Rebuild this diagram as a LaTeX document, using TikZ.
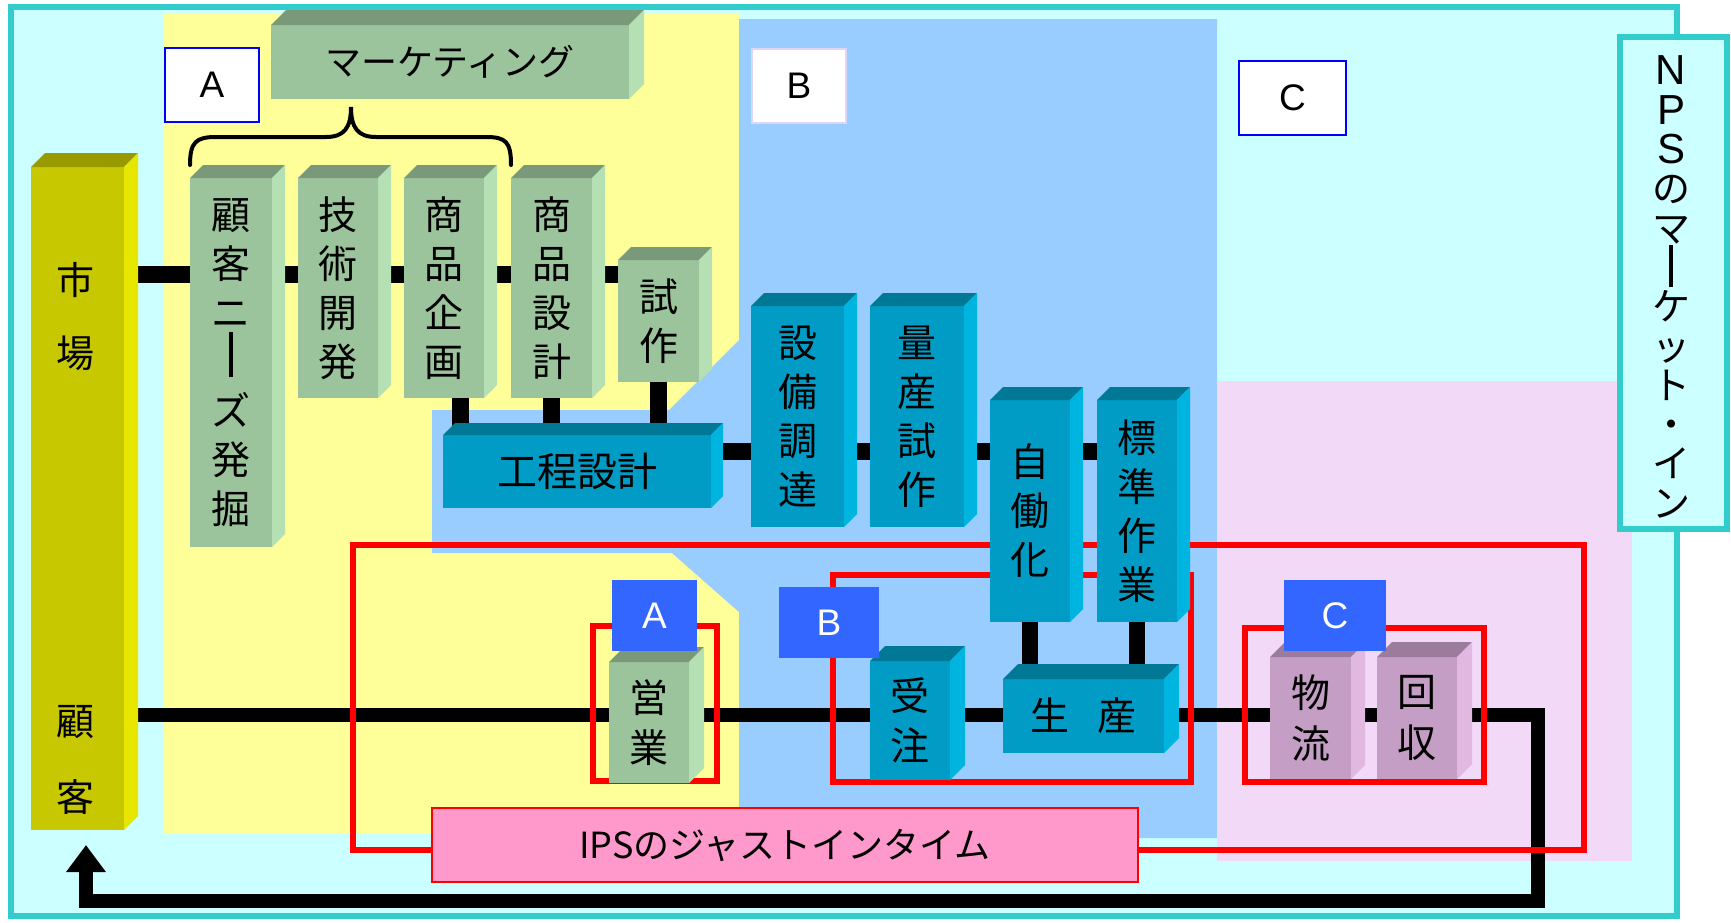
\documentclass[tikz,border=0pt]{standalone}
\usepackage{fontspec}
\setmainfont{Liberation Sans}
\newfontfamily\jp{Noto Sans CJK JP}
\usetikzlibrary{arrows.meta}
\definecolor{bgcyan}{HTML}{CCFFFF}
\definecolor{frameteal}{HTML}{33CCCC}
\definecolor{regyellow}{HTML}{FFFF99}
\definecolor{regblue}{HTML}{99CCFF}
\definecolor{regpink}{HTML}{F2D9F8}
\definecolor{gfront}{HTML}{9CC49C}
\definecolor{gtop}{HTML}{7A987A}
\definecolor{gside}{HTML}{B4E0B4}
\definecolor{tfront}{HTML}{009CC6}
\definecolor{ttop}{HTML}{007896}
\definecolor{tside}{HTML}{00B4E0}
\definecolor{ofront}{HTML}{C8C800}
\definecolor{otop}{HTML}{999900}
\definecolor{oside}{HTML}{E6E600}
\definecolor{pfront}{HTML}{C49EC4}
\definecolor{ptop}{HTML}{9C7C9C}
\definecolor{pside}{HTML}{E0B8E0}
\definecolor{labblue}{HTML}{3366FF}
\definecolor{ipspink}{HTML}{FF99CC}
\definecolor{lavborder}{HTML}{E0D4F8}
\definecolor{pureblue}{HTML}{0000FF}
\definecolor{redline}{HTML}{FF0000}

\pgfdeclarelayer{back}
\pgfdeclarelayer{lines}
\pgfdeclarelayer{front}
\pgfsetlayers{back,lines,main,front}

% #1 node name, #2 depth, #3 top colour, #4 side colour
\newcommand\cubefaces[4]{%
  \fill[#3] (#1.north west) -- ++(#2,-#2) -- ([shift={(#2,-#2)}]#1.north east) -- (#1.north east) -- cycle;
  \fill[#4] (#1.north east) -- ([shift={(#2,-#2)}]#1.north east) -- ([shift={(#2,-#2)}]#1.south east) -- (#1.south east) -- cycle;
}
% vertical long-vowel bar for vertical writing
\newcommand\vbarA{\rule[-1pt]{3.5pt}{45pt}}
\newcommand\vbarB{\rule[-6pt]{4.5pt}{42pt}}

\tikzset{
  face/.style={inner sep=0pt, outer sep=0pt, align=center, text=black,
    font=\jp\fontsize{39}{49}\selectfont},
  gf/.style={face, fill=gfront},
  tf/.style={face, fill=tfront},
  of/.style={face, fill=ofront},
  pf/.style={face, fill=pfront},
  conn/.style={draw=black, line width=17pt},
  redbox/.style={draw=redline, line width=5.5pt},
  wlab/.style={fill=white, line width=2pt, inner sep=0pt, minimum width=94pt,
    minimum height=74pt, font=\fontsize{37}{40}\selectfont},
  blab/.style={fill=labblue, text=white, inner sep=0pt, minimum height=71pt,
    font=\fontsize{37}{40}\selectfont},
  mtext/.style={inner sep=0pt, font=\jp\fontsize{38}{40}\selectfont},
}

\begin{document}
\begin{tikzpicture}[x=1pt, y=-1pt]
\useasboundingbox (0,0) rectangle (1731,922);

\begin{pgfonlayer}{back}
  \fill[white] (0,0) rectangle (1731,922);
  \draw[fill=bgcyan, draw=frameteal, line width=6.5pt] (11,7) rectangle (1677,916);
  \fill[regyellow] (164,13) rectangle (739,833);
  \fill[regblue] (739,19) -- (1217,19) -- (1217,838) -- (739,838) -- (739,612)
     -- (672,553) -- (432,553) -- (432,410) -- (669,410) -- (739,340) -- cycle;
  \fill[regpink] (1217,381) rectangle (1632,861);
  \node[draw=frameteal, fill=bgcyan, line width=6pt, minimum width=107pt,
        minimum height=492pt, inner sep=0pt] (nps) at (1673.5,283) {};
  \node[inner sep=0pt, align=center, font=\jp\fontsize{38}{39.3}\selectfont] (npstext) at (1671,287)
    {{\rmfamily\fontsize{42}{39.3}\selectfont N}\\{\rmfamily\fontsize{42}{39.3}\selectfont P}\\{\rmfamily\fontsize{42}{39.3}\selectfont S}\\の\\マ\\\vbarB\\ケ\\ッ\\ト\\・\\イ\\ン};
\end{pgfonlayer}

% top labels
\node[wlab, draw=pureblue] (labA) at (212,85) {A};
\node[wlab, draw=lavborder] (labB) at (799,85.5) {B};
\node[wlab, draw=pureblue, minimum width=107pt] (labC) at (1292.5,98) {C};

% marketing
\node[gf, minimum width=358pt, minimum height=74pt, font=\jp\fontsize{36}{40}\selectfont] (mkt) at (450,62) {マーケティング};
\cubefaces{mkt}{15}{gtop}{gside}
\draw[line width=4pt, line cap=round] (190,165) .. controls (190,142) and (196,137) .. (216,137)
  -- (326,137) .. controls (344,137) and (351,128) .. (351,107)
  .. controls (351,128) and (358,137) .. (376,137) -- (486,137)
  .. controls (506,137) and (511,142) .. (511,165);

% market column
\node[of, minimum width=93pt, minimum height=663pt] (market) at (77.5,498.5) {};
\cubefaces{market}{14}{otop}{oside}
\node[mtext] (m1) at (75,280) {市};
\node[mtext] (m2) at (75,353) {場};
\node[mtext] (m3) at (75,722) {顧};
\node[mtext] (m4) at (75,797) {客};

% green columns
\node[gf, minimum width=82pt, minimum height=369pt] (needs) at (231,362.5) {顧\\客\\ニ\\\vbarA\\ズ\\発\\掘};
\cubefaces{needs}{13}{gtop}{gside}
\node[gf, minimum width=80pt, minimum height=220pt] (gijutsu) at (338,288) {技\\術\\開\\発};
\cubefaces{gijutsu}{13}{gtop}{gside}
\node[gf, minimum width=80pt, minimum height=220pt] (kikaku) at (444,288) {商\\品\\企\\画};
\cubefaces{kikaku}{13}{gtop}{gside}
\node[gf, minimum width=81pt, minimum height=220pt] (sekkei) at (551.5,288) {商\\品\\設\\計};
\cubefaces{sekkei}{13}{gtop}{gside}
\node[gf, minimum width=81pt, minimum height=122pt] (shisaku) at (658.5,321) {試\\作};
\cubefaces{shisaku}{13}{gtop}{gside}

% teal columns
\node[tf, minimum width=268pt, minimum height=73pt, font=\jp\fontsize{40}{44}\selectfont] (koutei) at (577,471.5) {工程設計};
\cubefaces{koutei}{12}{ttop}{tside}
\node[tf, minimum width=93pt, minimum height=221pt] (setsubi) at (797.5,416.5) {設\\備\\調\\達};
\cubefaces{setsubi}{13}{ttop}{tside}
\node[tf, minimum width=94pt, minimum height=221pt] (ryosan) at (917,416.5) {量\\産\\試\\作};
\cubefaces{ryosan}{13}{ttop}{tside}
\node[tf, minimum width=80pt, minimum height=222pt] (jido) at (1030,511) {自\\働\\化};
\cubefaces{jido}{13}{ttop}{tside}
\node[tf, minimum width=80pt, minimum height=222pt] (hyojun) at (1137,511) {標\\準\\作\\業};
\cubefaces{hyojun}{13}{ttop}{tside}

% bottom row
\node[gf, minimum width=80pt, minimum height=121pt, font=\jp\fontsize{39}{50}\selectfont] (eigyo) at (649,722.5) {営\\業};
\cubefaces{eigyo}{15}{gtop}{gside}
\node[tf, minimum width=80pt, minimum height=119pt, font=\jp\fontsize{39}{50}\selectfont] (juchu) at (910,720.5) {受\\注};
\cubefaces{juchu}{15}{ttop}{tside}
\node[tf, minimum width=161pt, minimum height=74pt] (seisan) at (1083.5,716) {生\hspace{29pt}産};
\cubefaces{seisan}{15}{ttop}{tside}
\node[pf, minimum width=81pt, minimum height=122pt, font=\jp\fontsize{39}{51}\selectfont] (butsuryu) at (1310.5,718) {物\\流};
\cubefaces{butsuryu}{14}{ptop}{pside}
\node[pf, minimum width=80pt, minimum height=122pt, font=\jp\fontsize{39}{51}\selectfont] (kaishu) at (1417,718) {回\\収};
\cubefaces{kaishu}{15}{ptop}{pside}

% IPS box
\node[draw=redline, fill=ipspink, line width=1.5pt, minimum width=706pt, minimum height=74pt,
      inner sep=0pt, font=\jp\fontsize{36}{40}\selectfont] (ips) at (785,845) {IPSのジャストインタイム};

% connectors and red frames
\begin{pgfonlayer}{lines}
  \coordinate (tl) at (0,274);
  \coordinate (ml) at (0,451);
  \coordinate (bl) at (0,715);
  \coordinate (rc) at (1538,715);
  \coordinate (rb) at (86,901);
  \coordinate (tip) at (86,845);
  \draw[conn] (market.east |- tl) -- (shisaku.west |- tl);
  \draw[conn] ([xshift=16pt]kikaku.south) -- ([xshift=16pt]kikaku.south |- koutei.north);
  \draw[conn] (sekkei.south) -- (sekkei.south |- koutei.north);
  \draw[conn] (shisaku.south) -- (shisaku.south |- koutei.north);
  \draw[conn] (koutei.east |- ml) -- (hyojun.west |- ml);
  \draw[conn, line width=16pt] (jido.south) -- (jido.south |- seisan.north);
  \draw[conn, line width=16pt] (hyojun.south) -- (hyojun.south |- seisan.north);
  \draw[conn, line width=13.5pt, -{Triangle[width=38pt,length=27pt]}]
     (market.east |- bl) -- (rc) |- (rb) -- (tip);
  \draw[redbox, line width=6pt] (353,545) rectangle (1584,850);
  \draw[redbox] (593,626) rectangle (717,781);
  \draw[redbox] (833,575) rectangle (1191,782);
  \draw[redbox] (1245,628) rectangle (1484,782);
\end{pgfonlayer}

% blue labels
\begin{pgfonlayer}{front}
  \node[blab, minimum width=85pt] (bA) at (654.5,615.5) {A};
  \node[blab, minimum width=100pt] (bB) at (829,622.5) {B};
  \node[blab, minimum width=102pt] (bC) at (1335,615.5) {C};
\end{pgfonlayer}
\end{tikzpicture}
\end{document}
